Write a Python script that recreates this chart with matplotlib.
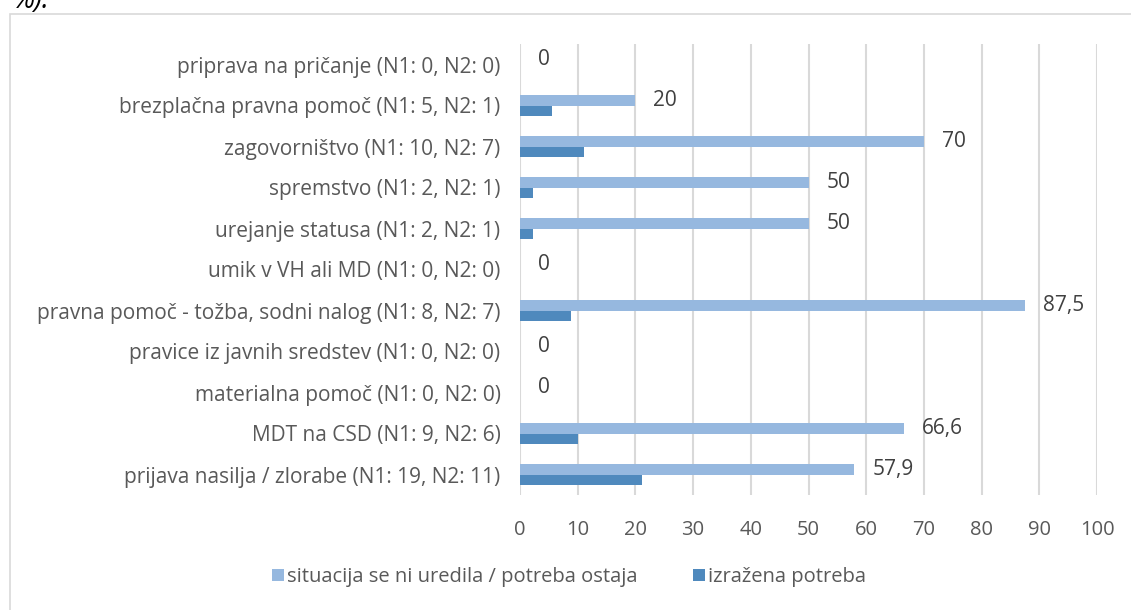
import matplotlib.pyplot as plt
import numpy as np
from matplotlib.patches import Rectangle

# categories, top to bottom as they appear in the chart
categories = [
    "priprava na pričanje (N1: 0, N2: 0)",
    "brezplačna pravna pomoč (N1: 5, N2: 1)",
    "zagovorništvo (N1: 10, N2: 7)",
    "spremstvo (N1: 2, N2: 1)",
    "urejanje statusa (N1: 2, N2: 1)",
    "umik v VH ali MD (N1: 0, N2: 0)",
    "pravna pomoč - tožba, sodni nalog (N1: 8, N2: 7)",
    "pravice iz javnih sredstev (N1: 0, N2: 0)",
    "materialna pomoč (N1: 0, N2: 0)",
    "MDT na CSD (N1: 9, N2: 6)",
    "prijava nasilja / zlorabe (N1: 19, N2: 11)",
]
ostaja = [0, 20, 70, 50, 50, 0, 87.5, 0, 0, 66.6, 57.9]
izrazena = [0, 5.6, 11.1, 2.2, 2.2, 0, 8.9, 0, 0, 10.0, 21.1]
ostaja_labels = ["0", "20", "70", "50", "50", "0", "87,5", "0", "0", "66,6", "57,9"]
series_names = ["situacija se ni uredila / potreba ostaja", "izražena potreba"]
xticks = list(range(0, 101, 10))

LIGHT = "#96B8DF"
DARK = "#4F89BD"
GRID = "#D9D9D9"
TEXT = "#595959"

plt.rcParams["font.family"] = ["Open Sans", "DejaVu Sans"]

W, H = 1131, 610
fig = plt.figure(figsize=(W / 100, H / 100), dpi=100)

# chart frame (cut off at right and bottom) and caption fragment above it
fig.patches.append(Rectangle((10 / W, -0.1), 1.2, 1 - 14 / H + 0.1,
                             transform=fig.transFigure, fill=False,
                             edgecolor=GRID, linewidth=1.2))
fig.text(13 / W, 1 - 8 / H, "%).", fontsize=20, style="italic",
         color="black", va="baseline", ha="left")

ax = fig.add_axes([520 / W, 1 - 495 / H, (1097 - 520) / W, (495 - 44) / H])

y = np.arange(len(categories))
h = 0.25
ax.barh(y - h / 2, ostaja, height=h, color=LIGHT, label=series_names[0], zorder=3)
ax.barh(y + h / 2, izrazena, height=h, color=DARK, label=series_names[1], zorder=3)

for yi, v, lab in zip(y, ostaja, ostaja_labels):
    ax.annotate(lab, (v, yi - h / 2), xytext=(13, 0), textcoords="offset points",
                va="center", ha="left", fontsize=15, color="#404040")

ax.set_ylim(len(categories) - 0.5, -0.5)
ax.set_xlim(0, 100)
ax.set_xticks(xticks)
ax.set_yticks(y)
ax.set_yticklabels(categories, fontsize=15, color=TEXT)
ax.tick_params(axis="x", labelsize=14.5, labelcolor=TEXT, length=0, pad=18)
ax.tick_params(axis="y", length=0, pad=14)
ax.grid(axis="x", color=GRID, linewidth=1.5, zorder=0)
for s in ax.spines.values():
    s.set_visible(False)

fig.legend(loc="center", bbox_to_anchor=(569 / W, 1 - 577 / H), ncol=2,
           frameon=False, fontsize=14.5, labelcolor=TEXT, handlelength=0.55,
           handleheight=0.55, handletextpad=0.15, columnspacing=2.8)

fig.savefig("out.png", dpi=100, facecolor="white")
